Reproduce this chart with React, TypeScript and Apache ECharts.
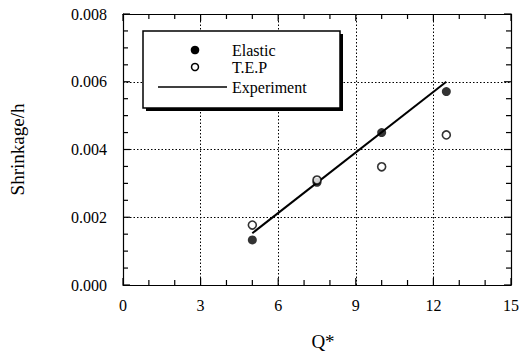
import React, { useEffect, useRef } from "react";
import * as echarts from "echarts";

const qValues = [5, 7.5, 10, 12.5];
const elastic = [0.00133, 0.00303, 0.0045, 0.00571];
const tep = [0.00177, 0.0031, 0.00349, 0.00443];
const experimentX = [5, 12.5];
const experimentY = [0.00153, 0.006];
const legendNames = ["Elastic", "T.E.P", "Experiment"];
const xTickLabels = [0, 3, 6, 9, 12, 15];
const yTickLabels = [0, 0.002, 0.004, 0.006, 0.008];

const FONT = "Liberation Serif";
const X_MIN = 0, X_MAX = 15, Y_MIN = 0, Y_MAX = 0.008;

// tick marks: [value, axis(0=x,1=y), length]
const tickData: number[][] = [];
for (let i = 0; i <= 15; i++) tickData.push([i, 0, i % 3 === 0 ? 7 : 5]);
for (let i = 0; i <= 16; i++) tickData.push([i * 0.0005, 1, i % 4 === 0 ? 7 : 5]);

function makeAxis(extra: any, splitNumber: number) {
  return {
    axisLine: { show: true, onZero: false, lineStyle: { color: "#000", width: 1.2 } },
    axisTick: { show: false },
    minorTick: { show: false, splitNumber },
    ...extra,
  };
}

export default function App() {
  const ref = useRef<HTMLDivElement>(null);
  useEffect(() => {
    if (!ref.current) return;
    const chart = echarts.init(ref.current, undefined, { renderer: "svg" });
    const grid = { lineStyle: { color: "#000", type: [1.5, 2], width: 1 } };
    const gridBox = { left: 123, right: 12, top: 14, bottom: 73 };
    chart.setOption({
      animation: false,
      backgroundColor: "#fff",
      grid: [gridBox, gridBox],
      xAxis: [
        makeAxis(
          {
            type: "value",
            gridIndex: 0,
            position: "bottom",
            min: X_MIN,
            max: X_MAX,
            interval: xTickLabels[1] - xTickLabels[0],
            name: "Q*",
            nameLocation: "middle",
            nameGap: 47,
            nameTextStyle: { fontFamily: FONT, fontSize: 19, color: "#000", padding: [0, 0, 0, 12] },
            axisLabel: { fontFamily: FONT, fontSize: 16, color: "#000", margin: 12 },
            splitLine: { show: true, ...grid },
          },
          3
        ),
        makeAxis(
          {
            type: "value",
            gridIndex: 1,
            position: "top",
            min: X_MIN,
            max: X_MAX,
            interval: 3,
            axisLabel: { show: false },
            splitLine: { show: false },
          },
          3
        ),
      ],
      yAxis: [
        makeAxis(
          {
            type: "value",
            gridIndex: 0,
            position: "left",
            min: Y_MIN,
            max: Y_MAX,
            interval: yTickLabels[1] - yTickLabels[0],
            name: "Shrinkage/h",
            nameLocation: "middle",
            nameGap: 96,
            nameTextStyle: { fontFamily: FONT, fontSize: 19, color: "#000" },
            axisLabel: {
              fontFamily: FONT,
              fontSize: 16,
              color: "#000",
              margin: 16,
              formatter: (v: number) => v.toFixed(3),
            },
            splitLine: { show: true, ...grid },
          },
          4
        ),
        makeAxis(
          {
            type: "value",
            gridIndex: 1,
            position: "right",
            min: Y_MIN,
            max: Y_MAX,
            interval: 0.002,
            axisLabel: { show: false },
            splitLine: { show: false },
          },
          4
        ),
      ],
      series: [
        {
          name: "ticks",
          type: "custom",
          xAxisIndex: 0,
          yAxisIndex: 0,
          silent: true,
          clip: false,
          z: 5,
          encode: { x: -1, y: -1 },
          data: tickData,
          renderItem: (params: any, api: any) => {
            const v = api.value(0);
            const axis = api.value(1);
            const len = api.value(2);
            const st = { stroke: "#000", lineWidth: 1.2 };
            if (axis === 0) {
              const b = api.coord([v, Y_MIN]);
              const t = api.coord([v, Y_MAX]);
              return {
                type: "group",
                children: [
                  { type: "line", shape: { x1: b[0], y1: b[1], x2: b[0], y2: b[1] - len }, style: st },
                  { type: "line", shape: { x1: t[0], y1: t[1], x2: t[0], y2: t[1] + len }, style: st },
                ],
              };
            }
            const l = api.coord([X_MIN, v]);
            const r = api.coord([X_MAX, v]);
            return {
              type: "group",
              children: [
                { type: "line", shape: { x1: l[0], y1: l[1], x2: l[0] + len, y2: l[1] }, style: st },
                { type: "line", shape: { x1: r[0], y1: r[1], x2: r[0] - len, y2: r[1] }, style: st },
              ],
            };
          },
        },
        {
          name: legendNames[2],
          type: "line",
          xAxisIndex: 0,
          yAxisIndex: 0,
          data: experimentX.map((x, i) => [x, experimentY[i]]),
          showSymbol: false,
          lineStyle: { color: "#000", width: 2 },
          z: 2,
        },
        {
          name: legendNames[0],
          type: "scatter",
          xAxisIndex: 0,
          yAxisIndex: 0,
          data: qValues.map((x, i) => [x, elastic[i]]),
          symbol: "circle",
          symbolSize: 9,
          itemStyle: { color: "#000" },
          z: 3,
        },
        {
          name: legendNames[1],
          type: "scatter",
          xAxisIndex: 0,
          yAxisIndex: 0,
          data: qValues.map((x, i) => [x, tep[i]]),
          symbol: "circle",
          symbolSize: 8,
          itemStyle: { color: "#fff", borderColor: "#000", borderWidth: 1.6 },
          z: 4,
        },
      ],
      graphic: [
        {
          type: "rect",
          shape: { x: 146, y: 34, width: 197, height: 77 },
          style: { fill: "#000" },
          z: 100,
        },
        {
          type: "rect",
          shape: { x: 143, y: 31, width: 197, height: 77 },
          style: { fill: "#fff", stroke: "#000", lineWidth: 1.5 },
          z: 101,
        },
        {
          type: "circle",
          shape: { cx: 195, cy: 50, r: 4.3 },
          style: { fill: "#000" },
          z: 102,
        },
        {
          type: "circle",
          shape: { cx: 195, cy: 67, r: 3.5 },
          style: { fill: "#fff", stroke: "#000", lineWidth: 1.5 },
          z: 102,
        },
        {
          type: "line",
          shape: { x1: 158, y1: 87, x2: 227, y2: 87 },
          style: { stroke: "#000", lineWidth: 1.5 },
          z: 102,
        },
        ...legendNames.map((n, i) => ({
          type: "text",
          x: 232,
          y: [50, 67, 87][i],
          style: {
            text: n,
            fontFamily: FONT,
            fontSize: 16,
            fill: "#000",
            verticalAlign: "middle",
          },
          z: 102,
        })),
      ],
    });
    return () => chart.dispose();
  }, []);
  return <div ref={ref} style={{ width: 523, height: 358, position: "absolute", left: 0, top: 0 }} />;
}
